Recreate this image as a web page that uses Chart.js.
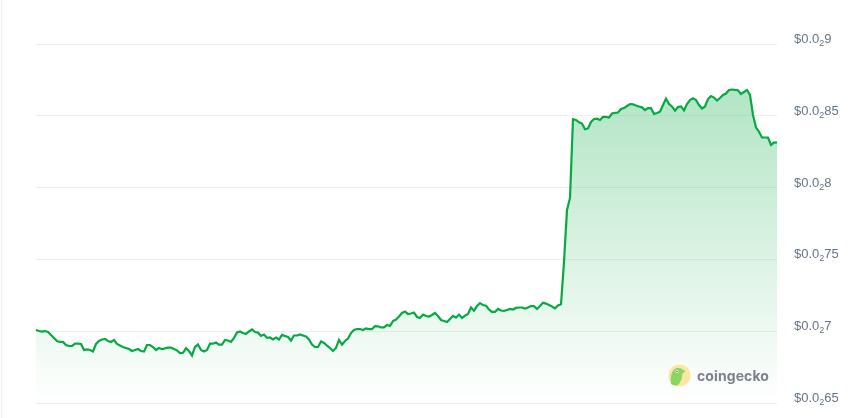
<!DOCTYPE html>
<html>
<head>
<meta charset="utf-8">
<script src="https://cdn.jsdelivr.net/npm/chart.js@4"></script>
<style>
  html, body { margin: 0; padding: 0; background: #fff; overflow: hidden; }
  #wrap { position: relative; width: 867px; height: 418px; }
  #edge { position: absolute; left: 1px; top: 0; width: 1px; height: 418px; background: #f0f0f0; }
  #logo { position: absolute; left: 668px; top: 364px; display: flex; align-items: center; }
  #logo span { font: 700 14px "Inter", sans-serif; color: #80808a; margin-left: 6px; letter-spacing: 0.1px; }
</style>
</head>
<body>
<div id="wrap">
  <canvas id="priceChart" width="867" height="418"></canvas>
  <div id="edge"></div>
  <div id="logo">
    <svg width="23" height="23" viewBox="0 0 23 23">
      <circle cx="11.5" cy="11.5" r="11" fill="#f9e7a3"/>
      <path d="M3 20 C2 13 3.5 5 9 4 C12 3.5 15 5 17.5 7.5 C15.5 8.5 14 9.5 14 11.5 C14 15 12.5 18.5 9.5 21.5 C7 21.5 5 21 3 20 Z" fill="#8cd561"/>
      <circle cx="9" cy="7.5" r="1.5" fill="#fff"/>
      <circle cx="9" cy="7.5" r="0.8" fill="#555"/>
    </svg>
    <span>coingecko</span>
  </div>
</div>
<script>
// prices, oldest first
const prices = [
  0.007008, 0.007001, 0.006997, 0.007001, 0.006994, 0.006974, 0.006953, 0.006932, 0.006925, 0.006925,
  0.006904, 0.006897, 0.006897, 0.006914, 0.006914, 0.006911, 0.006869, 0.006873, 0.006869, 0.006859,
  0.006911, 0.006932, 0.006942, 0.006946, 0.006932, 0.006925, 0.006939, 0.006911, 0.006900, 0.006890,
  0.006883, 0.006876, 0.006862, 0.006869, 0.006876, 0.006862, 0.006859, 0.006904, 0.006904, 0.006890,
  0.006869, 0.006883, 0.006876, 0.006880, 0.006885, 0.006885, 0.006876, 0.006866, 0.006848, 0.006850,
  0.006881, 0.006862, 0.006831, 0.006890, 0.006907, 0.006869, 0.006859, 0.006869, 0.006913, 0.006913,
  0.006921, 0.006906, 0.006907, 0.006939, 0.006935, 0.006925, 0.006953, 0.006991, 0.006998, 0.006987,
  0.006981, 0.006998, 0.007012, 0.006994, 0.006990, 0.006967, 0.006977, 0.006953, 0.006956, 0.006942,
  0.006956, 0.006942, 0.006974, 0.006967, 0.006960, 0.006935, 0.006970, 0.006970, 0.006977, 0.006970,
  0.006963, 0.006942, 0.006907, 0.006890, 0.006890, 0.006928, 0.006918, 0.006900, 0.006883, 0.006862,
  0.006883, 0.006939, 0.006907, 0.006932, 0.006949, 0.006987, 0.007008, 0.007015, 0.007015, 0.007008,
  0.007020, 0.007015, 0.007015, 0.007036, 0.007034, 0.007026, 0.007026, 0.007043, 0.007036, 0.007071,
  0.007081, 0.007102, 0.007127, 0.007137, 0.007120, 0.007123, 0.007130, 0.007099, 0.007092, 0.007116,
  0.007106, 0.007102, 0.007113, 0.007127, 0.007106, 0.007078, 0.007071, 0.007064, 0.007085, 0.007106,
  0.007094, 0.007116, 0.007092, 0.007109, 0.007120, 0.007165, 0.007143, 0.007175, 0.007196, 0.007182,
  0.007178, 0.007151, 0.007134, 0.007134, 0.007155, 0.007144, 0.007141, 0.007148, 0.007155, 0.007151,
  0.007162, 0.007165, 0.007165, 0.007158, 0.007165, 0.007175, 0.007175, 0.007155, 0.007175, 0.007198,
  0.007192, 0.007182, 0.007172, 0.007159, 0.007179, 0.007187, 0.007482, 0.007844, 0.007928, 0.008476,
  0.008471, 0.008455, 0.008446, 0.008406, 0.008412, 0.008457, 0.008478, 0.008480, 0.008471, 0.008492,
  0.008492, 0.008488, 0.008516, 0.008520, 0.008523, 0.008547, 0.008554, 0.008568, 0.008582, 0.008580,
  0.008572, 0.008565, 0.008559, 0.008540, 0.008554, 0.008554, 0.008513, 0.008520, 0.008529, 0.008575,
  0.008620, 0.008582, 0.008565, 0.008536, 0.008561, 0.008565, 0.008537, 0.008582, 0.008610, 0.008622,
  0.008610, 0.008575, 0.008551, 0.008565, 0.008617, 0.008638, 0.008627, 0.008606, 0.008624, 0.008645,
  0.008655, 0.008680, 0.008683, 0.008680, 0.008678, 0.008652, 0.008666, 0.008680, 0.008645, 0.008506,
  0.008419, 0.008389, 0.008349, 0.008349, 0.008349, 0.008297, 0.008313, 0.008315
];
const labels = prices.map((_, i) => i);
const tickValues = [0.0065, 0.007, 0.0075, 0.008, 0.0085, 0.009];
const tickDigits = ["65", "7", "75", "8", "85", "9"];

function areaFill(ctx) {
  const area = ctx.chart.chartArea;
  if (!area) return "rgba(0,168,62,0.2)";
  const g = ctx.chart.ctx.createLinearGradient(0, 88, 0, area.bottom);
  g.addColorStop(0, "rgba(0,168,62,0.30)");
  g.addColorStop(1, "rgba(0,168,62,0.0)");
  return g;
}

// tick labels need a real subscript, the axis can only draw one font per label
const subscriptTicks = {
  id: "subscriptTicks",
  afterDraw(chart) {
    const { ctx, scales: { y }, chartArea } = chart;
    ctx.save();
    ctx.fillStyle = "#667487";
    ctx.textBaseline = "alphabetic";
    ctx.textAlign = "left";
    tickValues.forEach((v, i) => {
      const py = y.getPixelForValue(v) - 1;
      let x = chartArea.right + 17;
      ctx.font = '13px "Liberation Sans"';
      ctx.fillText("$0.0", x, py);
      x += ctx.measureText("$0.0").width;
      ctx.font = '9px "Liberation Sans"';
      ctx.fillText("2", x, py + 3);
      x += ctx.measureText("2").width;
      ctx.font = '13px "Liberation Sans"';
      ctx.fillText(tickDigits[i], x, py);
    });
    ctx.restore();
  }
};

new Chart(document.getElementById("priceChart"), {
  type: "line",
  data: {
    labels,
    datasets: [{
      data: prices,
      borderColor: "#05aa43",
      borderWidth: 2.2,
      pointRadius: 0,
      tension: 0,
      fill: "start",
      backgroundColor: areaFill
    }]
  },
  plugins: [subscriptTicks],
  options: {
    responsive: false,
    animation: false,
    layout: { padding: { left: 36, top: 44, bottom: 15, right: 0 } },
    plugins: { legend: { display: false }, tooltip: { enabled: false } },
    scales: {
      x: { display: false },
      y: {
        position: "right",
        min: 0.0065,
        max: 0.009,
        afterBuildTicks: s => { s.ticks = tickValues.map(value => ({ value })); },
        afterFit: s => { s.width = 90; s.paddingTop = 0; s.paddingBottom = 0; },
        border: { display: false },
        grid: { color: "#eeeeee", drawTicks: false, lineWidth: 1 },
        ticks: { display: false }
      }
    }
  }
});
</script>
</body>
</html>
